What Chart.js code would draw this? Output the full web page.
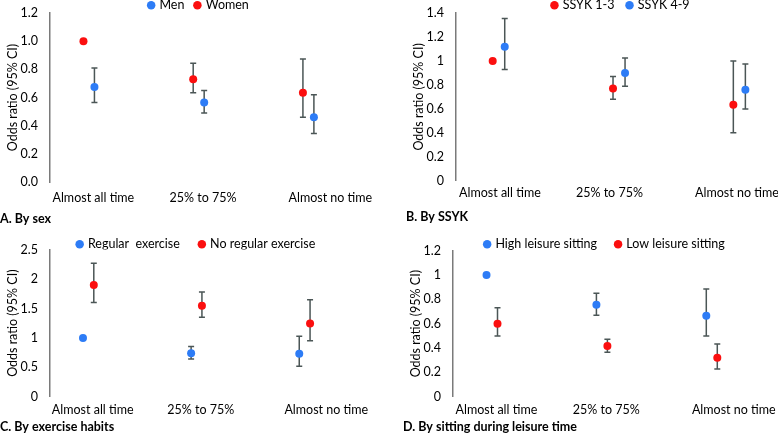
<!DOCTYPE html>
<html>
<head>
<meta charset="utf-8">
<script src="https://cdn.jsdelivr.net/npm/chart.js@4.4.0/dist/chart.umd.min.js"></script>
<style>
  html, body { margin: 0; padding: 0; background: #fff; overflow: hidden; }
  body { width: 778px; height: 434px; position: relative; }
  .panel { position: absolute; }
</style>
</head>
<body>
<div class="panel" style="left:0px; top:-12.5px; width:398px; height:238px;"><canvas id="chartA"></canvas></div>
<div class="panel" style="left:406px; top:-14.5px; width:430px; height:238px;"><canvas id="chartB"></canvas></div>
<div class="panel" style="left:0px; top:217.7px; width:393px; height:216px;"><canvas id="chartC"></canvas></div>
<div class="panel" style="left:403px; top:218.7px; width:404px; height:215px;"><canvas id="chartD"></canvas></div>
<script>
// categories on the x axis
const categories = ['Almost all time', '25% to 75%', 'Almost no time'];

// A. By sex
const menOR = [0.675, 0.565, 0.46];
const menLow = [0.565, 0.49, 0.345];
const menHigh = [0.81, 0.65, 0.62];
const womenOR = [1.0, 0.73, 0.635];
const womenLow = [null, 0.635, 0.46];
const womenHigh = [null, 0.845, 0.875];

// B. By SSYK
const ssyk13OR = [1.0, 0.77, 0.635];
const ssyk13Low = [null, 0.68, 0.40];
const ssyk13High = [null, 0.87, 1.0];
const ssyk49OR = [1.12, 0.90, 0.76];
const ssyk49Low = [0.93, 0.79, 0.60];
const ssyk49High = [1.355, 1.025, 0.975];

// C. By exercise habits
const regularOR = [1.0, 0.74, 0.73];
const regularLow = [null, 0.64, 0.52];
const regularHigh = [null, 0.855, 1.03];
const noRegularOR = [1.9, 1.545, 1.245];
const noRegularLow = [1.6, 1.35, 0.95];
const noRegularHigh = [2.27, 1.78, 1.65];

// D. By sitting during leisure time
const highSitOR = [1.0, 0.755, 0.665];
const highSitLow = [null, 0.67, 0.50];
const highSitHigh = [null, 0.85, 0.885];
const lowSitOR = [0.60, 0.417, 0.32];
const lowSitLow = [0.50, 0.366, 0.228];
const lowSitHigh = [0.73, 0.472, 0.434];

// where the category labels sit on the x axis
const catTicksACD = [1.04, 2.04, 3.2];
const catTicksB = [1.01, 1.92, 2.98];

const BLUE = '#2d7cf6';
const RED = '#fb0f0f';

Chart.defaults.font.family = 'Lato, "Open Sans", sans-serif';
Chart.defaults.font.size = 12.5;
Chart.defaults.color = '#000';

// vertical CI whiskers with caps
const errorBars = {
    id: 'errorBars',
    beforeDatasetsDraw(chart) {
        const { ctx, scales: { x, y } } = chart;
        ctx.save();
        ctx.strokeStyle = '#4b5656';
        ctx.lineWidth = 1.5;
        chart.data.datasets.forEach(ds => {
            ds.data.forEach((p, i) => {
                if (ds.lo[i] == null) return;
                const px = x.getPixelForValue(p.x);
                const yl = y.getPixelForValue(ds.lo[i]);
                const yh = y.getPixelForValue(ds.hi[i]);
                ctx.beginPath();
                ctx.moveTo(px, yl); ctx.lineTo(px, yh);
                ctx.moveTo(px - 3, yl); ctx.lineTo(px + 3, yl);
                ctx.moveTo(px - 3, yh); ctx.lineTo(px + 3, yh);
                ctx.stroke();
            });
        });
        ctx.restore();
    }
};

function series(label, or, lo, hi, color, shift) {
    return {
        label: label,
        data: or.map((v, i) => ({ x: i + 1 + shift, y: v })),
        lo: lo,
        hi: hi,
        backgroundColor: color,
        borderColor: color,
        borderWidth: 0,
        pointRadius: 4,
        pointHoverRadius: 4
    };
}

function makePanel(id, p) {
    new Chart(document.getElementById(id), {
        type: 'scatter',
        data: { datasets: p.datasets },
        plugins: [errorBars],
        options: {
            responsive: true,
            maintainAspectRatio: false,
            animation: false,
            devicePixelRatio: 1,
            layout: { padding: 0 },
            plugins: {
                tooltip: { enabled: false },
                legend: {
                    position: 'top',
                    maxHeight: p.legendHeight,
                    labels: {
                        usePointStyle: true,
                        pointStyle: 'circle',
                        boxWidth: 4,
                        boxHeight: 6,
                        padding: p.legendGap,
                        color: '#000'
                    }
                },
                title: {
                    display: true,
                    position: 'bottom',
                    align: 'start',
                    text: p.title,
                    color: '#000',
                    font: { size: 12.5, weight: 'bold' },
                    padding: 0
                }
            },
            scales: {
                x: {
                    type: 'linear',
                    min: 0.645,
                    max: p.xMax,
                    grid: { display: false, drawTicks: false },
                    border: { display: false },
                    afterBuildTicks: s => { s.ticks = p.catTicks.map(v => ({ value: v })); },
                    afterFit: s => { s.height = p.xAxisHeight; },
                    ticks: {
                        autoSkip: false,
                        maxRotation: 0,
                        padding: p.xPad,
                        callback: (v, i) => categories[i]
                    }
                },
                y: {
                    min: 0,
                    max: p.yMax,
                    grid: { display: false, drawTicks: false },
                    border: { display: true, color: '#7a7a7a', width: 1.5 },
                    afterFit: s => { s.width = 50; },
                    title: {
                        display: true,
                        text: 'Odds ratio (95% CI)',
                        padding: { top: 5, bottom: 0 }
                    },
                    ticks: {
                        stepSize: p.yStep,
                        padding: 12,
                        callback: p.yFormat
                    }
                }
            }
        }
    });
}

makePanel('chartA', {
    title: 'A. By sex',
    datasets: [
        series('Men', menOR, menLow, menHigh, BLUE, 0.05),
        series('Women', womenOR, womenLow, womenHigh, RED, -0.05)
    ],
    yMax: 1.2, yStep: 0.2, yFormat: v => v.toFixed(1),
    xMax: 3.78, catTicks: catTicksACD,
    legendGap: 11, legendHeight: 25.2,
    xAxisHeight: 29, xPad: 8
});

makePanel('chartB', {
    title: 'B. By SSYK',
    datasets: [
        series('SSYK 1-3', ssyk13OR, ssyk13Low, ssyk13High, RED, -0.05),
        series('SSYK 4-9', ssyk49OR, ssyk49Low, ssyk49High, BLUE, 0.05)
    ],
    yMax: 1.4, yStep: 0.2, yFormat: v => +v.toFixed(1),
    xMax: 3.77, catTicks: catTicksB,
    legendGap: 13, legendHeight: 27.2,
    xAxisHeight: 28.3, xPad: 5
});

makePanel('chartC', {
    title: 'C. By exercise habits',
    datasets: [
        series('Regular  exercise', regularOR, regularLow, regularHigh, BLUE, -0.05),
        series('No regular exercise', noRegularOR, noRegularLow, noRegularHigh, RED, 0.05)
    ],
    yMax: 2.5, yStep: 0.5, yFormat: v => +v.toFixed(1),
    xMax: 3.78, catTicks: catTicksACD,
    legendGap: 20, legendHeight: 31.6,
    xAxisHeight: 22.2, xPad: 6
});

makePanel('chartD', {
    title: 'D. By sitting during leisure time',
    datasets: [
        series('High leisure sitting', highSitOR, highSitLow, highSitHigh, BLUE, -0.05),
        series('Low leisure sitting', lowSitOR, lowSitLow, lowSitHigh, RED, 0.05)
    ],
    yMax: 1.2, yStep: 0.2, yFormat: v => +v.toFixed(1),
    xMax: 3.83, catTicks: catTicksACD,
    legendGap: 19, legendHeight: 31.6,
    xAxisHeight: 22.2, xPad: 6
});
</script>
</body>
</html>
